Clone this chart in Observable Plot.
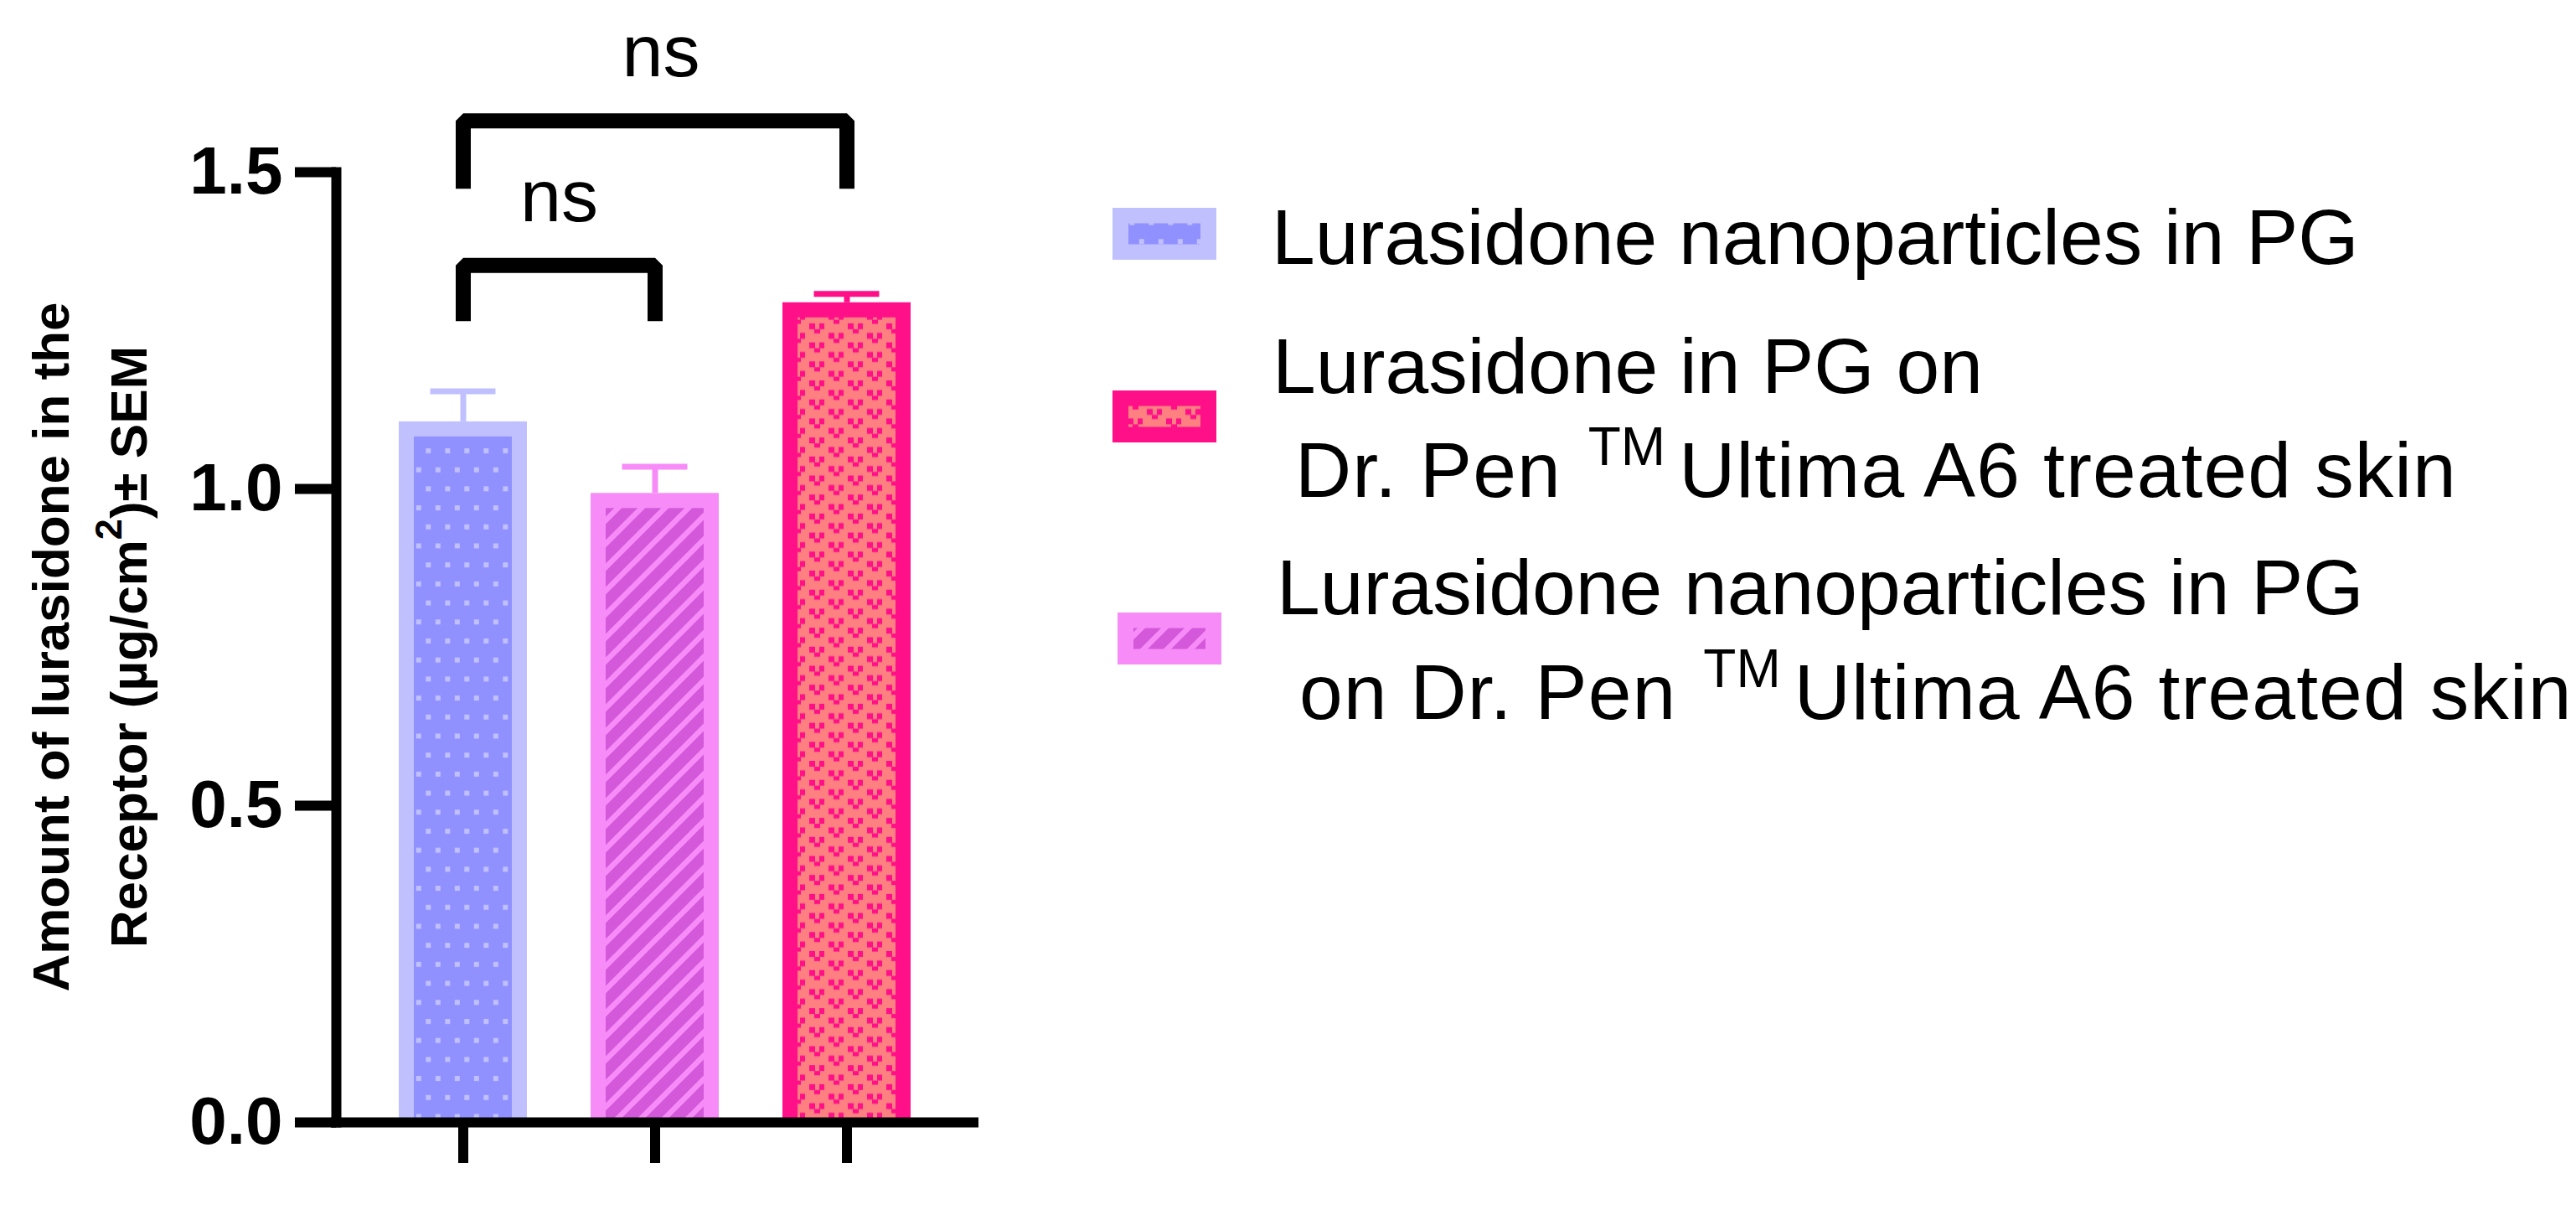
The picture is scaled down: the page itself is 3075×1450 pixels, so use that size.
<!DOCTYPE html>
<html>
<head>
<meta charset="utf-8">
<script src="https://cdn.jsdelivr.net/npm/d3@7"></script>
<script src="https://cdn.jsdelivr.net/npm/@observablehq/plot@0.6"></script>
<style>
  html, body { margin: 0; padding: 0; background: #ffffff; }
  #wrap { position: relative; width: 3075px; height: 1450px; overflow: hidden; background: #ffffff; }
  #chart { position: absolute; left: 0; top: 0; }
  #legend { position: absolute; left: 1300px; top: 0; }
  text { white-space: pre; }
</style>
</head>
<body>
<svg width="0" height="0" style="position:absolute">
  <defs>
    <pattern id="dots" patternUnits="userSpaceOnUse" width="23" height="45.4">
      <rect width="23" height="45.4" fill="#9090FF"/>
      <rect x="2.3" y="35.6" width="6" height="6" fill="#C0C0FF"/>
      <rect x="13.8" y="12.9" width="6" height="6" fill="#C0C0FF"/>
    </pattern>
    <pattern id="hatch" patternUnits="userSpaceOnUse" width="28" height="28">
      <rect width="28" height="28" fill="#D358DA"/>
      <path d="M-7,7 L7,-7 M0,28 L28,0 M21,35 L35,21" stroke="#F78CF8" stroke-width="6.5"/>
    </pattern>
    <pattern id="hearts" patternUnits="userSpaceOnUse" width="46" height="22.7">
      <rect width="46" height="22.7" fill="#FF8080"/>
      <g fill="#FF0F88">
        <rect x="0" y="0" width="7" height="7"/><rect x="12" y="0" width="6" height="7"/><rect x="6" y="7" width="7" height="5"/>
        <rect x="23" y="11.35" width="7" height="7"/><rect x="35" y="11.35" width="6" height="7"/><rect x="29" y="18.35" width="7" height="5"/>
        <rect x="23" y="-11.35" width="7" height="7"/><rect x="35" y="-11.35" width="6" height="7"/><rect x="29" y="-4.35" width="7" height="5"/>
      </g>
    </pattern>
  </defs>
</svg>
<div id="wrap">
  <div id="chart"></div>
  <div id="legend"></div>
</div>
<script>
// ---------- data ----------
const keys = ["NP in PG", "NP in PG on Dr. Pen", "PG on Dr. Pen"];
const means = [1.106, 0.993, 1.294];
const sems = [0.048, 0.042, 0.014];
const borderColors = ["#C0C0FF", "#F78CF8", "#FF0F88"];
const patternFills = ["url(#dots)", "url(#hatch)", "url(#hearts)"];
const yTicks = [0, 0.5, 1.0, 1.5];

// significance comparisons (indices into keys)
const pairA = [0, 0];
const pairB = [1, 2];
const bracketLevels = [1.353, 1.581];
const bracketLegEnds = [1.265, 1.474];
const labelLevels = [1.422, 1.651];
const sigLabels = ["ns", "ns"];

// legend (order as in picture)
const legendIndex = [0, 2, 1];
const legendLines = [
  [[{t: "Lurasidone nanoparticles in PG"}]],
  [[{t: "Lurasidone in PG on"}], [{t: " Dr. Pen "}, {t: "TM", sup: true}, {t: "Ultima A6 treated skin"}]],
  [[{t: "Lurasidone nanoparticles in PG"}], [{t: " on Dr. Pen "}, {t: "TM", sup: true}, {t: "Ultima A6 treated skin"}]]
];

// ---------- build ----------
const FONT = "'Liberation Sans', Arial, Helvetica, sans-serif";
const W = 1300, H = 1450;
const mT = 205, mR = 138, mB = 111, mL = 401;
const padIn = 0.332, padOut = 0.3275;
const step = (W - mL - mR) / (keys.length - padIn + 2 * padOut);

const data = keys.map((k, i) => ({key: k, mean: means[i], sem: sems[i], border: borderColors[i], pattern: patternFills[i]}));

const bracketPts = [];
pairA.forEach((a, j) => {
  const b = pairB[j];
  bracketPts.push({id: j, x: keys[a], y: bracketLegEnds[j]});
  bracketPts.push({id: j, x: keys[a], y: bracketLevels[j]});
  bracketPts.push({id: j, x: keys[b], y: bracketLevels[j]});
  bracketPts.push({id: j, x: keys[b], y: bracketLegEnds[j]});
});

const sigTextMarks = pairA.map((a, j) => Plot.text([{x: keys[a], y: labelLevels[j], label: sigLabels[j]}], {
  x: "x", y: "y", text: "label", dx: (pairB[j] - a) * step / 2 + (j === 1 ? 7 : 0),
  fontSize: 88, lineAnchor: "bottom", textAnchor: "middle", fill: "black"
}));

const plot = Plot.plot({
  width: W, height: H,
  marginTop: mT, marginRight: mR, marginBottom: mB, marginLeft: mL,
  style: {fontFamily: FONT, background: "white", color: "black", overflow: "visible"},
  x: {domain: keys, paddingInner: padIn, paddingOuter: padOut, round: false, axis: null},
  y: {domain: [0, 1.5], axis: null},
  color: {type: "identity"},
  marks: [
    Plot.barY(data, {x: "key", y: "mean", fill: "border"}),
    Plot.barY(data, {x: "key", y: "mean", fill: "pattern", insetTop: 18, insetLeft: 18, insetRight: 18}),
    Plot.ruleX(data, {x: "key", y1: "mean", y2: d => d.mean + d.sem, stroke: "border", strokeWidth: 7}),
    Plot.tickY(data, {x: "key", y: d => d.mean + d.sem, stroke: "border", strokeWidth: 7, insetLeft: 37.5, insetRight: 37.5}),
    Plot.line(bracketPts, {x: "x", y: "y", z: "id", stroke: "black", strokeWidth: 18, strokeLinejoin: "miter", strokeLinecap: "butt", curve: "linear"}),
    ...sigTextMarks,
    Plot.ruleY([0], {stroke: "black", strokeWidth: 12, strokeLinecap: "square"}),
    Plot.frame({anchor: "left", stroke: "black", strokeWidth: 12, strokeLinecap: "square"}),
    Plot.axisY({ticks: yTicks, tickFormat: d => d.toFixed(1), tickSize: 49, tickPadding: 15, fontSize: 80, fontWeight: "bold", strokeWidth: 12, label: null}),
    Plot.axisX({tickSize: 49, strokeWidth: 12, tickFormat: () => "", label: null})
  ]
});

// y-axis title (two lines, rotated, with superscript)
const svg = d3.select(plot);
const cy = (mT + H - mB) / 2;
const gT = svg.append("g").attr("font-family", FONT).attr("font-weight", "bold").attr("font-size", 62).attr("text-anchor", "middle").attr("fill", "black");
gT.append("text").attr("transform", `translate(82,${cy}) rotate(-90)`).text("Amount of lurasidone in the");
const t2 = gT.append("text").attr("transform", `translate(175,${cy}) rotate(-90)`);
t2.append("tspan").text("Receptor (\u00b5g/cm");
t2.append("tspan").attr("font-size", 45).attr("dy", -30).text("2");
t2.append("tspan").attr("dy", 30).text(")\u00b1 SEM");

document.getElementById("chart").appendChild(plot);

// ---------- legend ----------
const LX = 1300;
const swatchX = [1328, 1328, 1334];
const swatchY = [248, 466, 731];
const textX = [1518, 1519, 1524];
const baselines = [[315], [469, 593], [733, 858]];
const lg = d3.create("svg").attr("width", 3075 - LX).attr("height", H)
  .attr("font-family", FONT).attr("font-size", 93).attr("fill", "black");
legendIndex.forEach((di, r) => {
  const g = lg.append("g");
  g.append("rect").attr("x", swatchX[r] - LX).attr("y", swatchY[r]).attr("width", 124).attr("height", 62).attr("fill", borderColors[di]);
  g.append("rect").attr("x", swatchX[r] - LX + 19).attr("y", swatchY[r] + 18.5).attr("width", 124 - 38).attr("height", 62 - 37).attr("fill", patternFills[di]);
  legendLines[r].forEach((segs, li) => {
    const t = g.append("text").attr("x", textX[r] - LX).attr("y", baselines[r][li]);
    const hasSup = segs.some(s => s.sup);
    segs.forEach((s, si) => {
      if (s.sup) {
        t.append("tspan").attr("font-size", 64).attr("dx", 5).attr("dy", -38).attr("letter-spacing", 0).text(s.t);
      } else {
        const sp = t.append("tspan").text(s.t);
        if (hasSup) sp.attr("letter-spacing", 1.1);
        if (si > 0 && segs[si - 1].sup) sp.attr("dx", 16).attr("dy", 38);
      }
    });
  });
});
document.getElementById("legend").appendChild(lg.node());
</script>
</body>
</html>
